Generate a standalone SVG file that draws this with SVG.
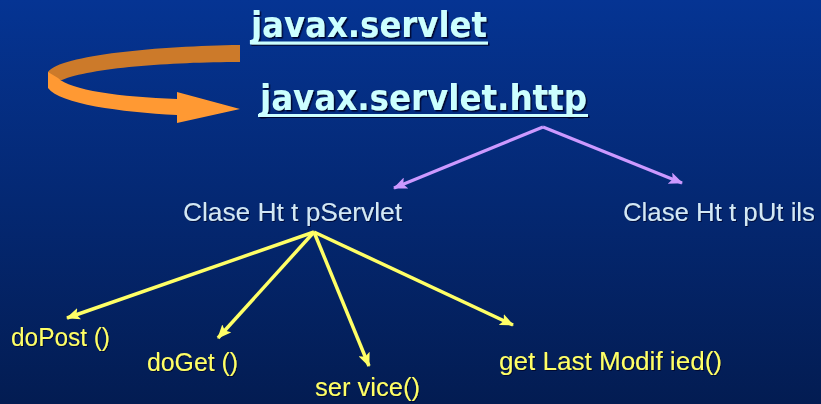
<svg xmlns="http://www.w3.org/2000/svg" width="821" height="404" viewBox="0 0 821 404">
<defs>
<linearGradient id="bg" x1="0" y1="0" x2="0" y2="1">
<stop offset="0" stop-color="#053493"/>
<stop offset="1" stop-color="#031c52"/>
</linearGradient>
<filter id="sh" x="-5%" y="-20%" width="110%" height="140%">
<feDropShadow dx="1.5" dy="1.5" stdDeviation="0.6" flood-color="#000020" flood-opacity="0.9"/>
</filter>
<filter id="sh2" x="-5%" y="-20%" width="110%" height="140%">
<feDropShadow dx="1" dy="1" stdDeviation="0.5" flood-color="#000020" flood-opacity="0.7"/>
</filter>
<marker id="ay" viewBox="0 0 14 12" refX="13" refY="6" markerWidth="14" markerHeight="12" markerUnits="userSpaceOnUse" orient="auto">
<path d="M0,0 L14,6 L0,12 L3,6 Z" fill="#ffff66"/>
</marker>
<marker id="ap" viewBox="0 0 14 12" refX="13" refY="6" markerWidth="14" markerHeight="12" markerUnits="userSpaceOnUse" orient="auto">
<path d="M0,0 L14,6 L0,12 L3,6 Z" fill="#cc99ff"/>
</marker>
</defs>
<style>
.title{font-family:"DejaVu Sans","Liberation Sans",sans-serif;font-weight:bold;font-size:35px;fill:#ccffff;filter:url(#sh)}
.cls{font-family:"Liberation Sans",Arial,sans-serif;font-size:26px;fill:#d2e8f6;filter:url(#sh2)}
.meth{font-family:"Liberation Sans",Arial,sans-serif;font-size:25px;fill:#ffff66;filter:url(#sh2)}
.yl{stroke:#ffff66;stroke-width:3.5;fill:none;marker-end:url(#ay)}
.pl{stroke:#cc99ff;stroke-width:3.2;fill:none;marker-end:url(#ap)}
</style>
<rect width="821" height="404" fill="url(#bg)"/>

<g id="cycle-arrow">
<path d="M240,45 L240,62 C170,62 90,68 62,80 L48,80 L48,72 C60,55 160,46 240,45 Z" fill="#cc7a2a"/>
<path d="M48,72 L48,88 C60,104 120,112 177,115 L177,123 L240,109 L177,92 L177,99 C120,97 70,90 58,78 Z" fill="#ff9933"/>
</g>

<g id="javax-servlet">
<text class="title" x="251" y="37" textLength="236" lengthAdjust="spacingAndGlyphs">javax.servlet</text>
<rect x="250" y="41.5" width="238" height="3" fill="#ccffff" filter="url(#sh)"/>
</g>

<g id="javax-servlet-http">
<text class="title" x="260" y="110" textLength="327" lengthAdjust="spacingAndGlyphs">javax.servlet.http</text>
<rect x="258" y="114" width="330" height="3" fill="#ccffff" filter="url(#sh)"/>
</g>

<g id="connectors">
<path class="pl" d="M543,127 L394,188"/>
<path class="pl" d="M543,127 L682,183"/>
<path class="yl" d="M314,232 L67,318"/>
<path class="yl" d="M314,232 L218,338"/>
<path class="yl" d="M314,232 L369,366"/>
<path class="yl" d="M314,232 L513,325"/>
</g>

<g id="httpservlet">
<text class="cls" x="183" y="221" textLength="219" lengthAdjust="spacingAndGlyphs">Clase Ht t pServlet</text>
</g>
<g id="httputils">
<text class="cls" x="623" y="221" textLength="192" lengthAdjust="spacingAndGlyphs">Clase Ht t pUt ils</text>
</g>
<g id="dopost">
<text class="meth" x="11" y="346" textLength="99" lengthAdjust="spacingAndGlyphs">doPost ()</text>
</g>
<g id="doget">
<text class="meth" x="147" y="371" textLength="91" lengthAdjust="spacingAndGlyphs">doGet ()</text>
</g>
<g id="service">
<text class="meth" x="315" y="396" textLength="105" lengthAdjust="spacingAndGlyphs">ser vice()</text>
</g>
<g id="getlastmodified">
<text class="meth" x="499" y="370" textLength="223" lengthAdjust="spacingAndGlyphs">get Last Modif ied()</text>
</g>
</svg>
